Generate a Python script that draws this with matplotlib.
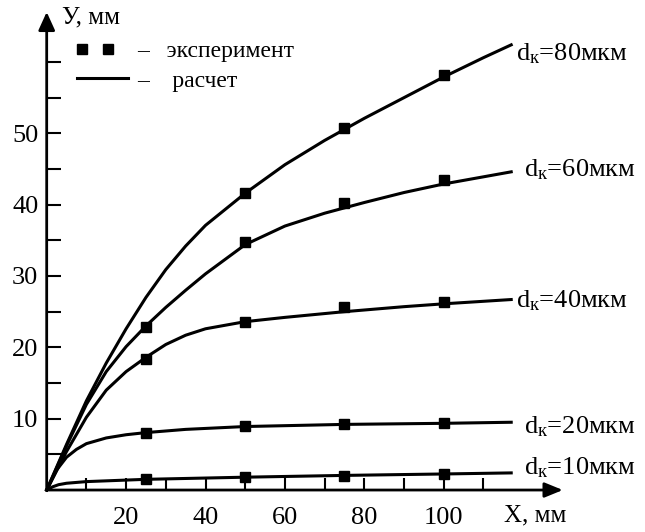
import numpy as np
import matplotlib
matplotlib.use('Agg')
import matplotlib.pyplot as plt
from matplotlib.lines import Line2D
from matplotlib.legend_handler import HandlerLine2D

plt.rcParams['font.family'] = ['Liberation Serif', 'DejaVu Serif']
plt.rcParams['mathtext.fontset'] = 'custom'
plt.rcParams['mathtext.rm'] = 'Liberation Serif'
plt.rcParams['mathtext.it'] = 'Liberation Serif:italic'

# Экспериментальные точки
x_exp = [25, 50, 75, 100]
y_exp_80 = [41.6, 50.8, 58.2]          # для 80 мкм нет точки при X = 25
y_exp_60 = [22.9, 34.8, 40.2, 43.5]
y_exp_40 = [18.4, 23.6, 25.6, 26.4]
y_exp_20 = [8.0, 9.0, 9.3, 9.4]
y_exp_10 = [1.5, 1.8, 2.0, 2.3]

# Расчётные кривые (точки)
x_80 = [0, 5, 10, 15, 20, 25, 30, 35, 40, 50, 60, 70, 80, 90, 100, 110, 117]
y_80 = [0, 6.4, 12.5, 17.8, 22.6, 27.0, 30.9, 34.2, 37.1, 41.6, 45.6, 49.0, 52.1, 55.0, 57.9, 60.6, 62.4]

x_60 = [0, 5, 10, 15, 20, 25, 30, 35, 40, 50, 60, 70, 80, 90, 100, 110, 117]
y_60 = [0, 6.2, 12.0, 16.6, 20.1, 23.0, 25.6, 28.0, 30.3, 34.4, 37.0, 38.8, 40.3, 41.7, 42.9, 43.9, 44.6]

x_40 = [0, 5, 10, 15, 20, 25, 30, 35, 40, 50, 60, 75, 90, 100, 117]
y_40 = [0, 5.4, 10.2, 14.0, 16.6, 18.6, 20.4, 21.7, 22.6, 23.6, 24.2, 25.0, 25.7, 26.1, 26.7]

x_20 = [0, 2.5, 5, 7.5, 10, 15, 20, 25, 35, 50, 75, 100, 117]
y_20 = [0, 2.8, 4.6, 5.7, 6.5, 7.3, 7.75, 8.05, 8.5, 8.9, 9.2, 9.35, 9.5]

x_10 = [0, 1.5, 3, 5, 10, 25, 50, 75, 100, 117]
y_10 = [0, 0.45, 0.75, 0.95, 1.18, 1.5, 1.8, 2.05, 2.25, 2.4]

curvas = [(x_80, y_80, y_exp_80, 'd$_\\mathrm{к}$=80мкм', 118.2, 61.2),
          (x_60, y_60, y_exp_60, 'd$_\\mathrm{к}$=60мкм', 120.2, 44.9),
          (x_40, y_40, y_exp_40, 'd$_\\mathrm{к}$=40мкм', 118.2, 26.6),
          (x_20, y_20, y_exp_20, 'd$_\\mathrm{к}$=20мкм', 120.2, 8.9),
          (x_10, y_10, y_exp_10, 'd$_\\mathrm{к}$=10мкм', 120.2, 3.1)]

x_ticks = [20, 40, 60, 80, 100]
x_minor = [10, 30, 50, 70, 90, 110]
y_ticks = [10, 20, 30, 40, 50]
y_minor = [5, 15, 25, 35, 45, 55, 60]


class HandlerDoisQuadrados(HandlerLine2D):
    # dois quadrados mais à esquerda da amostra, como no original
    def get_xdata(self, legend, xdescent, ydescent, width, height, fontsize):
        xmark = -xdescent + width * np.array([0.1, 0.61])
        return xmark, xmark


fig = plt.figure(figsize=(6.45, 5.32), dpi=100)
ax = fig.add_axes([0.0724, 0.0789, 0.8002, 0.8985])
ax.set_xlim(0, 130)
ax.set_ylim(0, 67)

for xc, yc, ye, nome, x_txt, y_txt in curvas:
    ax.plot(xc, yc, color='k', lw=2.2, clip_on=False, zorder=3)
    ax.plot(x_exp[-len(ye):], ye, 's', color='k', ms=7.5, clip_on=False, zorder=4)
    ax.text(x_txt, y_txt, nome, fontsize=19, ha='left', va='center')

# Eixos com setas
ax.annotate('', xy=(130, 0), xytext=(0, 0), annotation_clip=False,
            arrowprops=dict(arrowstyle='-|>,head_length=1.1,head_width=0.45',
                            color='k', lw=2, mutation_scale=10, shrinkA=0, shrinkB=0))
ax.annotate('', xy=(0, 67), xytext=(0, 0), annotation_clip=False,
            arrowprops=dict(arrowstyle='-|>,head_length=1.1,head_width=0.5',
                            color='k', lw=2, mutation_scale=10, shrinkA=0, shrinkB=0))

for s in ax.spines.values():
    s.set_visible(False)

ax.set_xticks(x_ticks)
ax.set_xticks(x_minor, minor=True)
ax.set_yticks(y_ticks)
ax.set_yticks(y_minor, minor=True)
ax.tick_params(axis='both', which='both', direction='in', width=1.5, labelsize=19)
ax.tick_params(axis='x', which='both', length=8.6, pad=12)
ax.tick_params(axis='y', which='both', length=10, pad=6)

ax.text(123.1, -3.6, 'X, мм', fontsize=18, ha='center', va='center')
ax.text(3.9, 66.2, 'У, мм', fontsize=18, ha='left', va='center')

# Legenda
h_exp = Line2D([], [], marker='s', ls='none', color='k', ms=7.5)
h_calc = Line2D([], [], color='k', lw=2.2)
fig.legend([h_exp, h_calc], ['–   эксперимент', '–    расчет'],
           loc='upper left', bbox_to_anchor=(0.1194, 0.9230),
           handler_map={h_exp: HandlerDoisQuadrados(numpoints=2)},
           frameon=False, fontsize=17, handlelength=2.16, handletextpad=0.38,
           labelspacing=0.32, borderpad=0, borderaxespad=0)

fig.savefig('out.png', dpi=100)
